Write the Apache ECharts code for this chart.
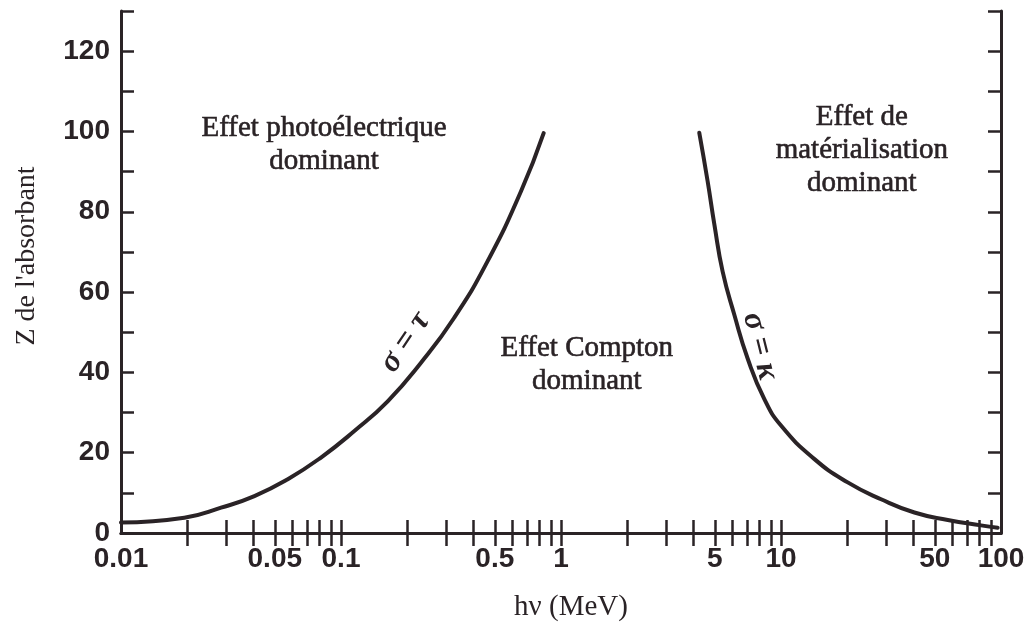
<!DOCTYPE html>
<html>
<head>
<meta charset="utf-8">
<title>Effets dominants selon hν et Z</title>
<script src="https://cdn.jsdelivr.net/npm/echarts@6/dist/echarts.min.js"></script>
<style>
  html, body { margin: 0; padding: 0; background: #ffffff; }
  #chart { width: 1033px; height: 634px; }
</style>
</head>
<body>
<div id="chart"></div>
<script>
// Frontière photoélectrique / Compton (σ = τ) : énergie du photon (MeV) et Z
const photoEnergy = [0.01, 0.0194, 0.0285, 0.0404, 0.0573, 0.0811, 0.115, 0.163, 0.231, 0.327, 0.464, 0.658, 0.834];
const photoZ      = [2.6, 3.8, 6.3, 9.2, 13.4, 18.8, 25.4, 32.8, 42.4, 53.6, 67.7, 85.1, 99.6];

// Frontière Compton / matérialisation (σ = κ)
const pairEnergy = [4.25, 4.64, 4.98, 5.43, 6.14, 7.06, 8.39, 10, 14.2, 20.1, 28.5, 40.4, 57.3, 81.1, 96.6];
const pairZ      = [99.7, 87.6, 76.8, 65.1, 54.3, 43.4, 33.4, 26.75, 18.4, 12.6, 8.4, 5.1, 3.25, 1.9, 1.3];

// Graduations de l'axe des énergies
const energyLabels = [0.01, 0.05, 0.1, 0.5, 1, 5, 10, 50, 100];
const energyTicks = [
  0.02, 0.03, 0.04, 0.05, 0.06, 0.07, 0.08, 0.09, 0.1,
  0.2, 0.3, 0.4, 0.5, 0.6, 0.7, 0.8, 0.9, 1,
  2, 3, 4, 5, 6, 7, 8, 9, 10,
  20, 30, 40, 50, 60, 70, 80, 90
];

// Graduations de l'axe Z
const zLabels = [0, 20, 40, 60, 80, 100, 120];

// Noms des domaines et leur emplacement (énergie, Z)
const regionNames  = ['Effet photoélectrique\ndominant', 'Effet Compton\ndominant', 'Effet de\nmatérialisation\ndominant'];
const regionEnergy = [0.0837, 1.31, 23.3];
const regionZ      = [96.6, 41.9, 95.25];

// Noms des courbes frontières
const curveNames  = ['σ = τ', 'σ = κ'];
const curveEnergy = [0.196, 8.03];
const curveZ      = [47.5, 46.5];

const ink = '#2a2326';
const serif = '"Liberation Serif", "DejaVu Serif", serif';
const sans = '"Liberation Sans", Arial, sans-serif';

const zip = (xs, ys) => xs.map((x, i) => [x, ys[i]]);

const frameLine = { show: true, lineStyle: { color: ink, width: 3 } };
const innerTick = (values) => {
  const tick = { show: true, inside: true, length: 13, lineStyle: { color: ink, width: 2.5 } };
  if (values) tick.customValues = values;
  return tick;
};

const energyAxis = (position, withLabels) => ({
  type: 'log', logBase: 10, min: 0.01, max: 100, position,
  axisLine: frameLine,
  axisTick: innerTick(energyTicks),
  splitLine: { show: false },
  minorTick: { show: false },
  axisLabel: withLabels ? {
    show: true, customValues: energyLabels, margin: 12,
    fontFamily: sans, fontWeight: 'bold', fontSize: 28, color: ink,
    formatter: (v) => String(v)
  } : { show: false },
  name: withLabels ? 'hν (MeV)' : '',
  nameLocation: 'middle', nameGap: 60,
  nameTextStyle: { fontFamily: serif, fontSize: 29, color: ink, padding: [0, 0, 0, 20] }
});

const zAxis = (position, withLabels) => ({
  type: 'value', min: 0, max: 130, interval: 10, position,
  axisLine: frameLine,
  axisTick: innerTick(null),
  splitLine: { show: false },
  axisLabel: withLabels ? {
    show: true, customValues: zLabels, margin: 11,
    fontFamily: sans, fontWeight: 'bold', fontSize: 28, color: ink
  } : { show: false },
  name: withLabels ? "Z de l'absorbant" : '',
  nameLocation: 'middle', nameGap: 80, nameRotate: 90,
  nameTextStyle: { fontFamily: serif, fontSize: 28, color: ink, padding: [0, 0, 0, 32] }
});

const curveRotate = [56, -76];

const boundary = (name, xs, ys) => ({
  type: 'line', name, xAxisIndex: 0, yAxisIndex: 0,
  data: zip(xs, ys), smooth: 0.5,
  showSymbol: false, symbol: 'none',
  lineStyle: { color: ink, width: 4, cap: 'round' }, z: 3
});

const option = {
  animation: false,
  backgroundColor: '#ffffff',
  grid: { left: 121, right: 32, top: 11, bottom: 101, containLabel: false },
  xAxis: [energyAxis('bottom', true), energyAxis('top', false)],
  yAxis: [zAxis('left', true), zAxis('right', false)],
  series: [
    boundary('σ = τ', photoEnergy, photoZ),
    boundary('σ = κ', pairEnergy, pairZ),
    {
      type: 'scatter', xAxisIndex: 0, yAxisIndex: 0, symbolSize: 0, silent: true,
      itemStyle: { opacity: 1 },
      data: regionNames.map((name, i) => ({ value: [regionEnergy[i], regionZ[i]], name })),
      label: {
        show: true, position: 'inside', formatter: (p) => p.name, opacity: 1,
        fontFamily: serif, fontSize: 29, lineHeight: 33, color: ink, align: 'center',
        textBorderColor: ink, textBorderWidth: 0.6
      }
    },
    {
      type: 'scatter', xAxisIndex: 0, yAxisIndex: 0, symbolSize: 0, silent: true,
      itemStyle: { opacity: 1 },
      data: curveNames.map((name, i) => ({
        value: [curveEnergy[i], curveZ[i]], name,
        label: { rotate: curveRotate[i] }
      })),
      label: {
        show: true, position: 'inside', formatter: (p) => p.name, opacity: 1,
        fontFamily: serif, fontStyle: 'italic', fontWeight: 'bold', fontSize: 32, color: ink
      }
    }
  ]
};

const chart = echarts.init(document.getElementById('chart'), null, { renderer: 'canvas' });
chart.setOption(option);
</script>
</body>
</html>
